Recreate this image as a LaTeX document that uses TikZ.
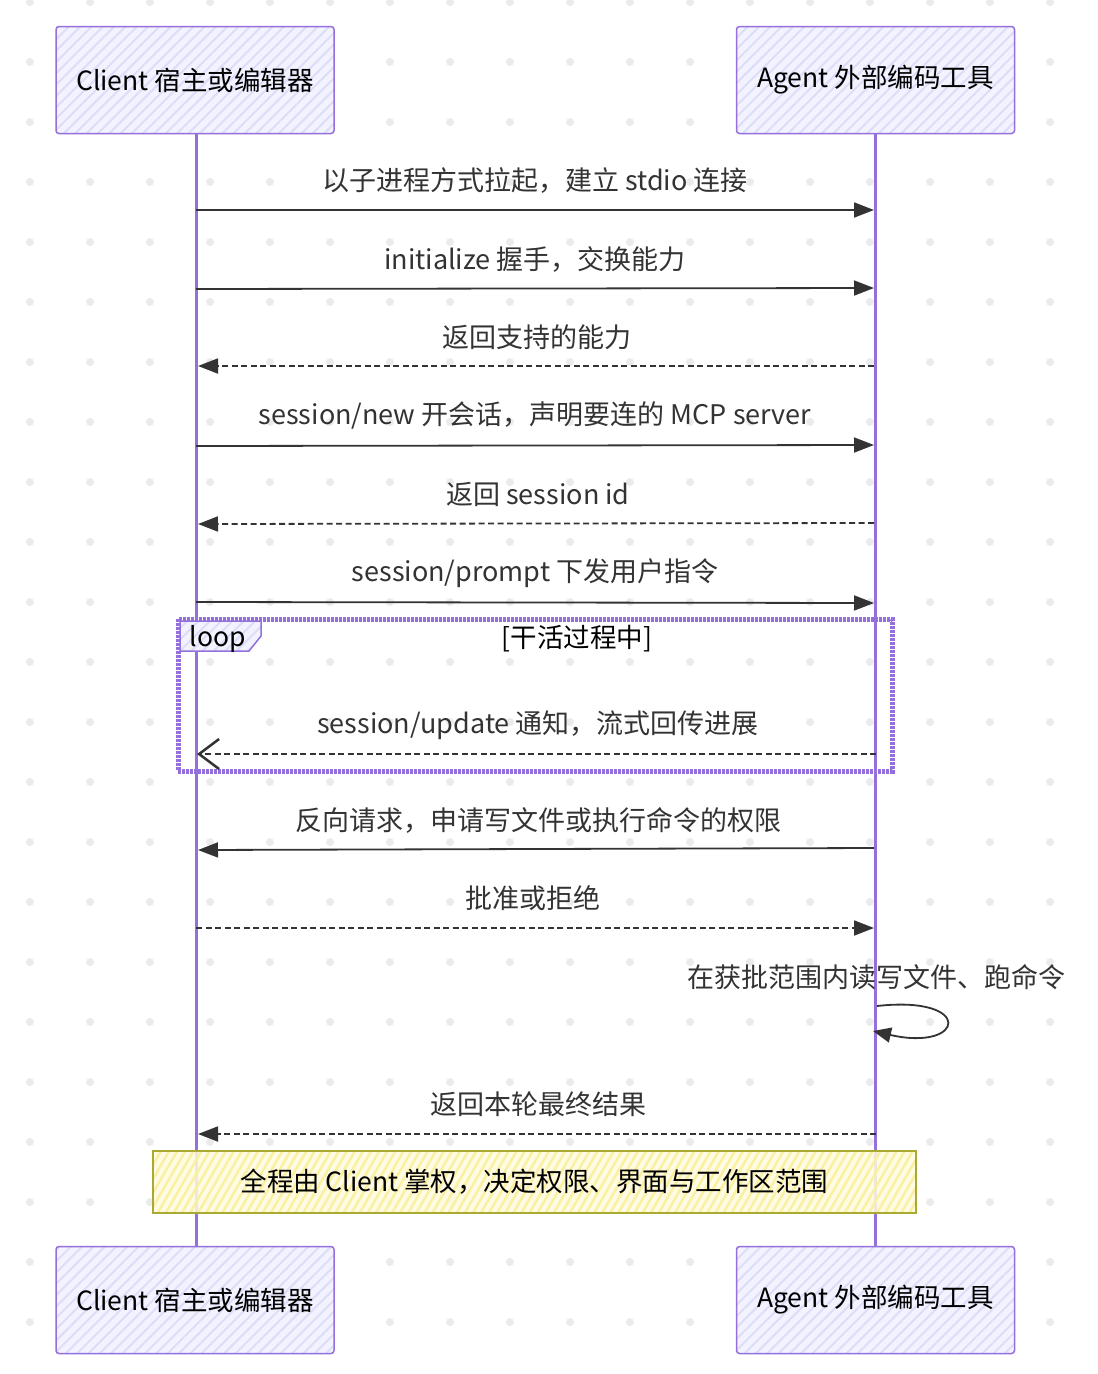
\documentclass[tikz,border=0pt]{standalone}
\usepackage{fontspec}
\setmainfont{Noto Sans CJK SC}
\usetikzlibrary{arrows.meta,patterns.meta}
\definecolor{lifec}{HTML}{9370DB}
\definecolor{actfill}{HTML}{F3F3FF}
\definecolor{hatchc}{HTML}{DDDDF9}
\definecolor{msgc}{HTML}{333333}
\definecolor{dotc}{HTML}{EBEBEB}
\definecolor{notefill}{HTML}{FFFBE0}
\definecolor{notehatch}{HTML}{FAF0A0}
\definecolor{notedraw}{HTML}{AAAA33}
\tikzset{
  actorbox/.style={draw=lifec, line width=1.5pt, rounded corners=3pt,
    minimum width=278pt, minimum height=107pt,
    preaction={fill=actfill},
    pattern={Lines[angle=45,distance=8pt,line width=2pt]}, pattern color=hatchc,
    font=\fontsize{26.5}{30}\selectfont, text=black},
  msglabel/.style={font=\fontsize{27}{32}\selectfont, text=msgc, inner sep=0pt},
  msgsolid/.style={draw=msgc, line width=1.8pt, -{Triangle[length=20pt,width=15pt]}},
  msgdash/.style={draw=msgc, line width=1.8pt, dash pattern=on 6pt off 3.5pt, -{Triangle[length=20pt,width=15pt]}},
  msgopen/.style={draw=msgc, line width=2pt, dash pattern=on 6pt off 3.5pt, -{Straight Barb[length=20pt,width=30pt,line width=2.5pt]}},
  lifeline/.style={draw=lifec, line width=3pt},
}
\begin{document}
\begin{tikzpicture}[x=1pt,y=-1pt]
\useasboundingbox (0,0) rectangle (1098,1374);
\fill[white] (0,0) rectangle (1098,1374);
% dot grid
\foreach \x in {30,90,...,1050} {
  \foreach \y in {2,62,...,1322} {
    \fill[dotc] (\x,\y) circle (4);
  }
}
% lifelines
\coordinate (ctop) at (196,132);
\coordinate (cbot) at (196,1246);
\coordinate (atop) at (875,132);
\coordinate (abot) at (875,1246);
\draw[lifeline] (ctop) -- (cbot);
\draw[lifeline] (atop) -- (abot);

% actor boxes
\node[actorbox] (client) at (195,80) {Client 宿主或编辑器};
\node[actorbox] (agent) at (875.5,80) {Agent 外部编码工具};
\node[actorbox] (client2) at (195,1300) {Client 宿主或编辑器};
\node[actorbox] (agent2) at (875.5,1300) {Agent 外部编码工具};

% messages
\node[msglabel] (l1) at (535,181) {以子进程方式拉起，建立 stdio 连接};
\coordinate (c1) at (196,210); \coordinate (a1) at (874,210);
\draw[msgsolid] (c1) -- (a1);

\node[msglabel] (l2) at (535,259) {initialize 握手，交换能力};
\coordinate (c2) at (196,289); \coordinate (a2) at (874,288);
\draw[msgsolid] (c2) -- (a2);

\node[msglabel] (l3) at (537,337) {返回支持的能力};
\coordinate (c3) at (198,366); \coordinate (a3) at (874,366);
\draw[msgdash] (a3) -- (c3);

\node[msglabel] (l4) at (535,416) {session/new 开会话，声明要连的 MCP server};
\coordinate (c4) at (196,446); \coordinate (a4) at (874,445);
\draw[msgsolid] (c4) -- (a4);

\node[msglabel] (l5) at (538,494) {返回 session id};
\coordinate (c5) at (198,524); \coordinate (a5) at (874,523);
\draw[msgdash] (a5) -- (c5);

\node[msglabel] (l6) at (535,573) {session/prompt 下发用户指令};
\coordinate (c6) at (196,602); \coordinate (a6) at (874,603);
\draw[msgsolid] (c6) -- (a6);

% loop frame
\draw[draw=lifec, line width=5pt, dash pattern=on 3pt off 1pt] (178,619) rectangle (892,771);
\path[draw=lifec, line width=1.5pt, preaction={fill=actfill},
  pattern={Lines[angle=45,distance=8pt,line width=2pt]}, pattern color=hatchc]
  (180,621) -- (261,621) -- (261,636) -- (249,651) -- (180,651) -- cycle;
\node[font=\fontsize{26.5}{30}\selectfont, text=black] (looplbl) at (218,639) {loop};
\node[font=\fontsize{26.5}{30}\selectfont, text=black] (loopcond) at (577,639) {[干活过程中]};

\node[msglabel] (l7) at (538,725) {session/update 通知，流式回传进展};
\coordinate (c7) at (197,754); \coordinate (a7) at (876,754);
\draw[msgopen] (a7) -- (c7);

\node[msglabel] (l8) at (538,820) {反向请求，申请写文件或执行命令的权限};
\coordinate (c8) at (198,850); \coordinate (a8) at (874,848);
\draw[msgsolid] (a8) -- (c8);

\node[msglabel] (l9) at (533,898) {批准或拒绝};
\coordinate (c9) at (196,928); \coordinate (a9) at (874,928);
\draw[msgdash] (c9) -- (a9);

% self message
\node[msglabel] (l10) at (876,977) {在获批范围内读写文件、跑命令};
\coordinate (s1) at (877,1006); \coordinate (s2) at (873,1031);
\draw[msgc, line width=1.8pt, -{Triangle[length=18pt,width=15pt]}] (s1) .. controls (975,995) and (965,1052) .. (s2);

\node[msglabel] (l11) at (538,1104) {返回本轮最终结果};
\coordinate (c11) at (198,1134); \coordinate (a11) at (876,1134);
\draw[msgdash] (a11) -- (c11);

% note
\node[draw=notedraw, line width=1.5pt, minimum width=763pt, minimum height=62pt,
  preaction={fill=notefill, fill opacity=0.85},
  pattern={Lines[angle=60,distance=7pt,line width=2.5pt]}, pattern color=notehatch,
  font=\fontsize{26.5}{30}\selectfont, text=black] (note) at (534.5,1182) {全程由 Client 掌权，决定权限、界面与工作区范围};
\end{tikzpicture}
\end{document}
